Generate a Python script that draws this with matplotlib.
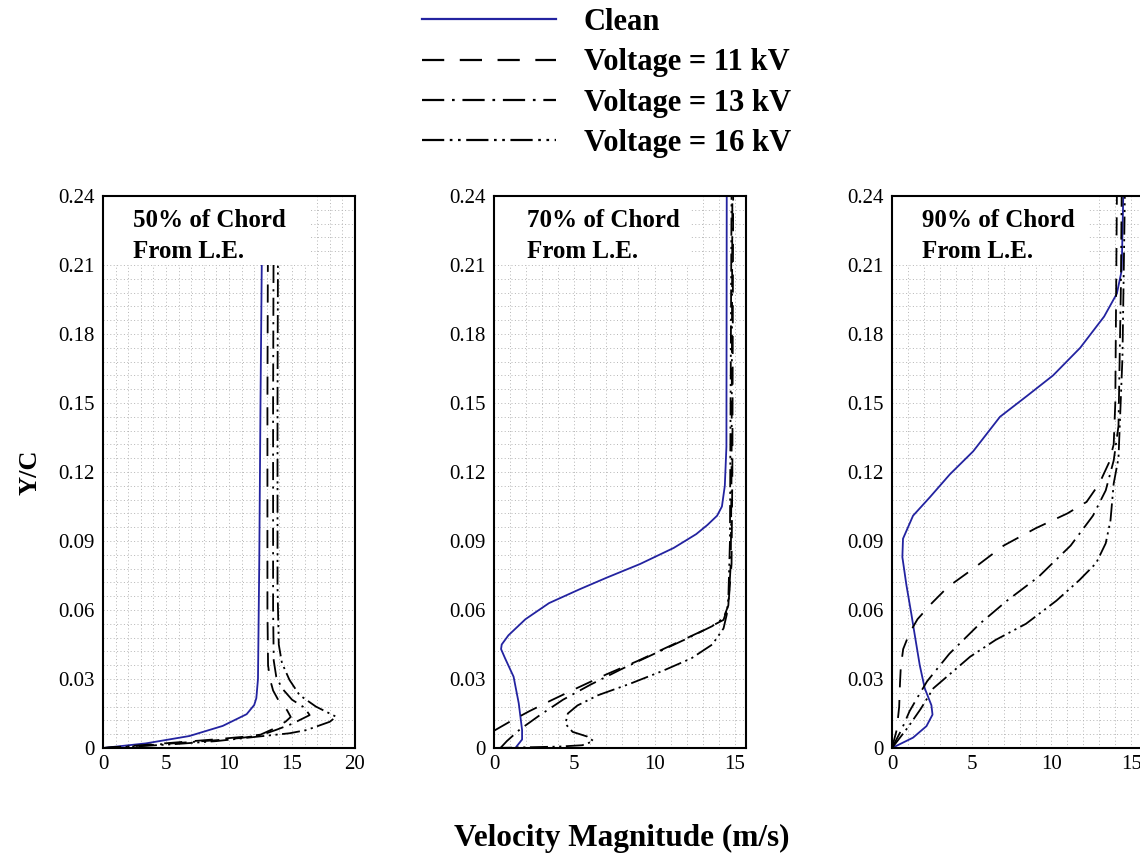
import numpy as np
import matplotlib
matplotlib.use("Agg")
import matplotlib.pyplot as plt
from matplotlib.patches import Rectangle
from matplotlib.lines import Line2D

plt.rcParams["font.family"] = ["Liberation Serif", "DejaVu Serif"]

# ---- data: (velocity m/s, Y/C) ----
Y_TICKS = [0, 0.03, 0.06, 0.09, 0.12, 0.15, 0.18, 0.21, 0.24]
Y_TICKLABELS = ["0", "0.03", "0.06", "0.09", "0.12", "0.15", "0.18", "0.21", "0.24"]
X_TICKS_50 = [0, 5, 10, 15, 20]
X_TICKS_70 = [0, 5, 10, 15]
X_TICKS_90 = [0, 5, 10, 15]
TITLES = ["50% of Chord\nFrom L.E.", "70% of Chord\nFrom L.E.", "90% of Chord\nFrom L.E."]
SERIES = ["Clean", "Voltage = 11 kV", "Voltage = 13 kV", "Voltage = 16 kV"]

# 50% chord
c50_v = [0, 3.4, 6.85, 9.5, 11.4, 12.0, 12.17, 12.3, 12.4, 12.5, 12.6, 12.65]
c50_y = [0, 0.002, 0.0052, 0.0096, 0.0147, 0.0187, 0.0217, 0.030, 0.08, 0.15, 0.21, 0.24]
v11_50_v = [0, 3, 6, 9, 11, 12.5, 13.6, 14.5, 14.9, 14.6, 14.0, 13.5, 13.25, 13.1, 13.05, 13.05, 13.1]
v11_50_y = [0, 0.0012, 0.0025, 0.0038, 0.0048, 0.0058, 0.0085, 0.0115, 0.0135, 0.0165, 0.020, 0.025, 0.030, 0.036, 0.06, 0.15, 0.24]
v13_50_v = [0, 3, 6, 9, 11, 12.5, 13.8, 15.0, 16.4, 16.0, 15.0, 14.2, 13.75, 13.55, 13.5, 13.5, 13.55]
v13_50_y = [0, 0.0010, 0.0022, 0.0034, 0.0044, 0.0055, 0.0080, 0.0105, 0.0143, 0.0175, 0.0210, 0.0260, 0.031, 0.038, 0.06, 0.15, 0.24]
v16_50_v = [0, 3, 6, 9, 12.2, 14.8, 16.15, 18.0, 18.5, 16.9, 15.6, 14.8, 14.2, 13.95, 13.85, 13.85, 13.9]
v16_50_y = [0, 0.0008, 0.0018, 0.0030, 0.0049, 0.0064, 0.0078, 0.0114, 0.0136, 0.018, 0.023, 0.0296, 0.037, 0.045, 0.07, 0.15, 0.24]

# 70% chord
c70_v = [1.33, 1.75, 1.75, 1.54, 1.22, 0.69, 0.44, 0.48, 0.9, 1.96, 3.43, 5.33, 7.0, 9.1, 11.2, 12.6, 13.3, 13.9, 14.2, 14.38, 14.48, 14.5]
c70_y = [0, 0.0037, 0.0078, 0.0195, 0.031, 0.039, 0.043, 0.045, 0.049, 0.056, 0.063, 0.069, 0.074, 0.080, 0.087, 0.093, 0.097, 0.101, 0.105, 0.114, 0.131, 0.24]
v11_70_v = [0, 1, 2.2, 3.5, 5, 7, 9, 11, 13, 14.3, 14.6, 14.8, 14.85, 14.9]
v11_70_y = [0.0075, 0.0115, 0.016, 0.0205, 0.0255, 0.032, 0.038, 0.0445, 0.051, 0.0557, 0.062, 0.08, 0.12, 0.24]
v13_70_v = [0.4, 0.8, 1.6, 2.8, 4.3, 6, 8, 10, 12, 13.6, 14.3, 14.6, 14.75, 14.8, 14.85]
v13_70_y = [0, 0.003, 0.008, 0.014, 0.021, 0.0275, 0.0345, 0.041, 0.0475, 0.053, 0.0565, 0.062, 0.08, 0.12, 0.24]
v16_70_v = [0, 2, 4, 5.5, 6.2, 5.8, 4.9, 4.45, 4.6, 5.2, 6.5, 8.5, 10.5, 12.3, 13.6, 14.3, 14.5, 14.6, 14.7, 14.8]
v16_70_y = [0, 0.0003, 0.0006, 0.0012, 0.003, 0.005, 0.007, 0.0105, 0.015, 0.0185, 0.023, 0.028, 0.0335, 0.039, 0.045, 0.052, 0.058, 0.065, 0.09, 0.24]

# 90% chord
c90_v = [0, 1.32, 2.16, 2.54, 2.47, 2.05, 1.74, 1.43, 1.22, 0.9, 0.65, 0.69, 1.32, 2.37, 3.63, 5.09, 6.77, 8.45, 10.1, 11.8, 13.3, 14.1, 14.4, 14.5]
c90_y = [0, 0.0045, 0.0095, 0.0145, 0.0186, 0.026, 0.036, 0.049, 0.058, 0.071, 0.083, 0.091, 0.101, 0.109, 0.119, 0.129, 0.144, 0.153, 0.162, 0.174, 0.1876, 0.1976, 0.2076, 0.24]
v11_90_v = [0, 0.3, 0.45, 0.5, 0.55, 0.7, 1.1, 1.6, 2.5, 3.5, 5, 7, 9, 11, 12.2, 13.0, 13.6, 13.9, 14.0, 14.1]
v11_90_y = [0, 0.008, 0.018, 0.028, 0.035, 0.043, 0.050, 0.056, 0.063, 0.070, 0.0775, 0.088, 0.0955, 0.102, 0.107, 0.115, 0.124, 0.132, 0.15, 0.24]
v13_90_v = [0, 0.6, 1.1, 1.6, 2.2, 3.6, 5.5, 7.2, 9.2, 11.2, 12.6, 13.4, 13.9, 14.2, 14.35, 14.4]
v13_90_y = [0, 0.008, 0.016, 0.022, 0.029, 0.041, 0.054, 0.064, 0.0745, 0.088, 0.101, 0.112, 0.125, 0.14, 0.20, 0.24]
v16_90_v = [0, 1.0, 1.8, 2.6, 4.9, 6.5, 8.4, 10.3, 11.75, 12.8, 13.4, 13.7, 13.9, 14.2, 14.45, 14.6]
v16_90_y = [0, 0.009, 0.017, 0.026, 0.0397, 0.047, 0.054, 0.064, 0.073, 0.0804, 0.089, 0.099, 0.115, 0.126, 0.17, 0.24]

PANELS = [
    ([c50_v, v11_50_v, v13_50_v, v16_50_v], [c50_y, v11_50_y, v13_50_y, v16_50_y], X_TICKS_50, 20.0),
    ([c70_v, v11_70_v, v13_70_v, v16_70_v], [c70_y, v11_70_y, v13_70_y, v16_70_y], X_TICKS_70, 15.7),
    ([c90_v, v11_90_v, v13_90_v, v16_90_v], [c90_y, v11_90_y, v13_90_y, v16_90_y], X_TICKS_90, 15.8),
]

BLUE = "#2323a0"
STYLES = [
    dict(color=BLUE, lw=1.3, ls="-"),
    dict(color="black", lw=1.3, dashes=(10, 7)),
    dict(color="black", lw=1.3, dashes=(10, 3.5, 1.2, 3.5)),
    dict(color="black", lw=1.3, dashes=(10, 2.5, 1.2, 2.5, 1.2, 2.5)),
]

W, H = 1140, 861
fig = plt.figure(figsize=(W / 100, H / 100), dpi=100)
lefts = [103, 494, 892]
ax_w = 252 / W
ax_b = 1 - 748 / H
ax_h = (748 - 196) / H
text_x = [0.118, 0.13, 0.12]

for i, (vs, ys, xt, xmax) in enumerate(PANELS):
    ax = fig.add_axes([lefts[i] / W, ax_b, ax_w, ax_h])
    for v, y, st in zip(vs, ys, STYLES):
        ax.plot(v, y, zorder=3, **st)
    ax.set_xlim(0, xmax)
    ax.set_ylim(0, 0.24)
    ax.set_xticks(xt)
    ax.set_yticks(Y_TICKS)
    ax.set_yticklabels(Y_TICKLABELS)
    ax.set_xticks(np.arange(0, xmax + 0.01, 1), minor=True)
    ax.set_yticks(np.arange(0, 0.2401, 0.006), minor=True)
    ax.grid(which="both", ls=(0, (1, 2.5)), color="#b5b5b5", lw=0.7, zorder=0)
    ax.tick_params(which="both", length=0, labelsize=15, pad=6)
    ax.tick_params(axis="x", pad=5)
    for s in ax.spines.values():
        s.set_linewidth(1.5)
        s.set_zorder(5)
    # white label box covering the top-left of the panel
    ax.add_patch(Rectangle((0, 0.875), 0.82 if i == 0 else 0.78, 0.125,
                           transform=ax.transAxes, facecolor="white",
                           edgecolor="none", zorder=4))
    ax.text(text_x[i], 0.977, TITLES[i], transform=ax.transAxes, ha="left", va="top",
            fontsize=18, fontweight="bold", linespacing=1.45, zorder=6)

handles = [Line2D([], [], **dict(st, lw=1.6)) for st in STYLES]
fig.legend(handles, SERIES, loc="upper left", bbox_to_anchor=(422 / W, 1 - 8 / H),
           frameon=False, handlelength=4.4, handletextpad=0.9, labelspacing=0.37,
           borderpad=0, borderaxespad=0,
           prop=dict(family="Liberation Serif", weight="bold", size=22))

fig.text(30 / W, 1 - 472 / H, "Y/C", rotation=90, ha="center", va="center",
         fontsize=19, fontweight="bold")
fig.text(622 / W, 1 - 838 / H, "Velocity Magnitude (m/s)", ha="center", va="center",
         fontsize=22.5, fontweight="bold")

fig.savefig("out.png", dpi=100)
